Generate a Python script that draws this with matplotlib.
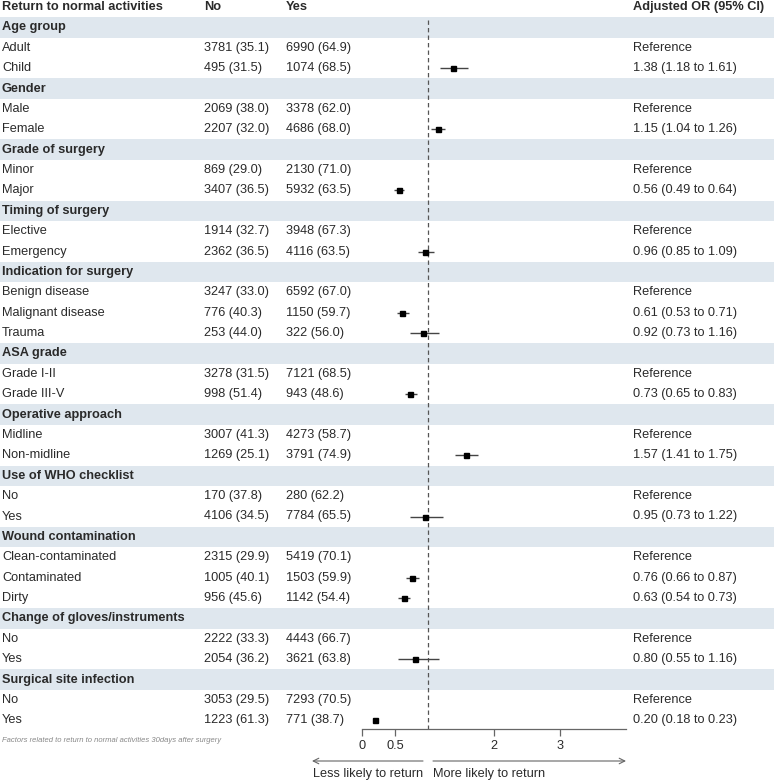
import matplotlib
matplotlib.use("Agg")
import matplotlib.pyplot as plt
import matplotlib.transforms as mtransforms

plt.rcParams['font.family'] = ['Liberation Sans', 'DejaVu Sans']

# ---------------- data ----------------
groups = ["Age group", "Gender", "Grade of surgery", "Timing of surgery",
          "Indication for surgery", "ASA grade", "Operative approach",
          "Use of WHO checklist", "Wound contamination",
          "Change of gloves/instruments", "Surgical site infection"]
levels = [["Adult", "Child"], ["Male", "Female"], ["Minor", "Major"],
          ["Elective", "Emergency"],
          ["Benign disease", "Malignant disease", "Trauma"],
          ["Grade I-II", "Grade III-V"], ["Midline", "Non-midline"],
          ["No", "Yes"],
          ["Clean-contaminated", "Contaminated", "Dirty"],
          ["No", "Yes"], ["No", "Yes"]]
no_n = [[3781, 495], [2069, 2207], [869, 3407], [1914, 2362],
        [3247, 776, 253], [3278, 998], [3007, 1269], [170, 4106],
        [2315, 1005, 956], [2222, 2054], [3053, 1223]]
no_pct = [[35.1, 31.5], [38.0, 32.0], [29.0, 36.5], [32.7, 36.5],
          [33.0, 40.3, 44.0], [31.5, 51.4], [41.3, 25.1], [37.8, 34.5],
          [29.9, 40.1, 45.6], [33.3, 36.2], [29.5, 61.3]]
yes_n = [[6990, 1074], [3378, 4686], [2130, 5932], [3948, 4116],
         [6592, 1150, 322], [7121, 943], [4273, 3791], [280, 7784],
         [5419, 1503, 1142], [4443, 3621], [7293, 771]]
yes_pct = [[64.9, 68.5], [62.0, 68.0], [71.0, 63.5], [67.3, 63.5],
           [67.0, 59.7, 56.0], [68.5, 48.6], [58.7, 74.9], [62.2, 65.5],
           [70.1, 59.9, 54.4], [66.7, 63.8], [70.5, 38.7]]
# None = reference level
or_est = [[None, 1.38], [None, 1.15], [None, 0.56], [None, 0.96],
          [None, 0.61, 0.92], [None, 0.73], [None, 1.57], [None, 0.95],
          [None, 0.76, 0.63], [None, 0.80], [None, 0.20]]
or_lo = [[None, 1.18], [None, 1.04], [None, 0.49], [None, 0.85],
         [None, 0.53, 0.73], [None, 0.65], [None, 1.41], [None, 0.73],
         [None, 0.66, 0.54], [None, 0.55], [None, 0.18]]
or_hi = [[None, 1.61], [None, 1.26], [None, 0.64], [None, 1.09],
         [None, 0.71, 1.16], [None, 0.83], [None, 1.75], [None, 1.22],
         [None, 0.87, 0.73], [None, 1.16], [None, 0.23]]
xticks = [0, 0.5, 2, 3]
xtick_labels = ["0", "0.5", "2", "3"]
footnote = "Factors related to return to normal activities 30days after surgery"

# ---------------- layout ----------------
W, H = 774, 780
fig = plt.figure(figsize=(W / 100, H / 100), dpi=100)
row0_px = 7.0
row_h = 20.38
axis_px = 729.0
y_top = (0 - row0_px) / row_h
y_bot = (axis_px - row0_px) / row_h

ax_bg = fig.add_axes([0, 1 - axis_px / H, 1, axis_px / H])
ax_bg.set_xlim(0, W)
ax_bg.set_ylim(y_bot, y_top)
ax_bg.axis("off")

fx0, fx1 = 362, 626
ax = fig.add_axes([fx0 / W, 1 - axis_px / H, (fx1 - fx0) / W, axis_px / H],
                  sharey=ax_bg)
ax.patch.set_alpha(0)
ax.set_xlim(0, 4)
ax.set_ylim(y_bot, y_top)

fs = 9.2
txt_col = "#2a2a2a"
band = "#dfe7ee"
col_no, col_yes, col_or = 204, 286, 633

# header
ax_bg.text(2, 0, "Return to normal activities", fontsize=fs, fontweight="bold",
           va="center", color=txt_col)
ax_bg.text(col_no, 0, "No", fontsize=fs, fontweight="bold", va="center", color=txt_col)
ax_bg.text(col_yes, 0, "Yes", fontsize=fs, fontweight="bold", va="center", color=txt_col)
ax_bg.text(col_or, 0, "Adjusted OR (95% CI)", fontsize=fs, fontweight="bold",
           va="center", color=txt_col)

r = 1
for g, name in enumerate(groups):
    ax_bg.axhspan(r - 0.5, r + 0.5, color=band, lw=0, zorder=0)
    ax_bg.text(2, r, name, fontsize=fs, fontweight="bold", va="center", color=txt_col)
    r += 1
    for k, lev in enumerate(levels[g]):
        ax_bg.text(2, r, lev, fontsize=fs, va="center", color=txt_col)
        ax_bg.text(col_no, r, f"{no_n[g][k]} ({no_pct[g][k]:.1f})", fontsize=fs,
                   va="center", color=txt_col)
        ax_bg.text(col_yes, r, f"{yes_n[g][k]} ({yes_pct[g][k]:.1f})", fontsize=fs,
                   va="center", color=txt_col)
        est = or_est[g][k]
        if est is None:
            ax_bg.text(col_or, r, "Reference", fontsize=fs, va="center", color=txt_col)
        else:
            lo, hi = or_lo[g][k], or_hi[g][k]
            ax_bg.text(col_or, r, f"{est:.2f} ({lo:.2f} to {hi:.2f})", fontsize=fs,
                       va="center", color=txt_col)
            ax.plot([lo, hi], [r, r], color="#444444", lw=1.0, zorder=3,
                    solid_capstyle="butt")
            ax.plot([est], [r], marker="s", ms=3.6, color="black", zorder=4)
        r += 1

# reference line
ax.vlines(1, 0.62, y_bot, colors="#555555", linestyles=(0, (3.5, 2.5)), lw=0.9,
          zorder=2)

# axis styling
for s in ["top", "right", "left"]:
    ax.spines[s].set_visible(False)
ax.spines["bottom"].set_color("#666666")
ax.spines["bottom"].set_linewidth(0.9)
ax.set_yticks([])
ax.set_xticks(xticks)
ax.set_xticklabels(xtick_labels)
ax.tick_params(axis="x", direction="out", length=5, width=0.9, colors="#666666",
               labelsize=fs, labelcolor=txt_col, pad=3)

# arrows
trans = mtransforms.blended_transform_factory(ax.transData, fig.transFigure)
y_arr = 1 - 761 / H
ax.annotate("", xy=((312 - fx0) / 66.0, y_arr), xytext=((423 - fx0) / 66.0, y_arr),
            xycoords=trans, textcoords=trans, annotation_clip=False,
            arrowprops=dict(arrowstyle="->", color="#666666", lw=0.8,
                            shrinkA=0, shrinkB=0))
ax.annotate("", xy=(4.0, y_arr), xytext=((433 - fx0) / 66.0, y_arr),
            xycoords=trans, textcoords=trans, annotation_clip=False,
            arrowprops=dict(arrowstyle="->", color="#666666", lw=0.8,
                            shrinkA=0, shrinkB=0))
y_lab = 1 - 774 / H
ax.text((423 - fx0) / 66.0, y_lab, "Less likely to return", transform=trans,
        ha="right", va="center", fontsize=fs, color=txt_col)
ax.text((433 - fx0) / 66.0, y_lab, "More likely to return", transform=trans,
        ha="left", va="center", fontsize=fs, color=txt_col)

# footnote
fig.text(2 / W, 1 - 740 / H, footnote, fontsize=5.5, style="italic",
         color="#888888", va="center", ha="left")

fig.savefig("out.png", dpi=100)
